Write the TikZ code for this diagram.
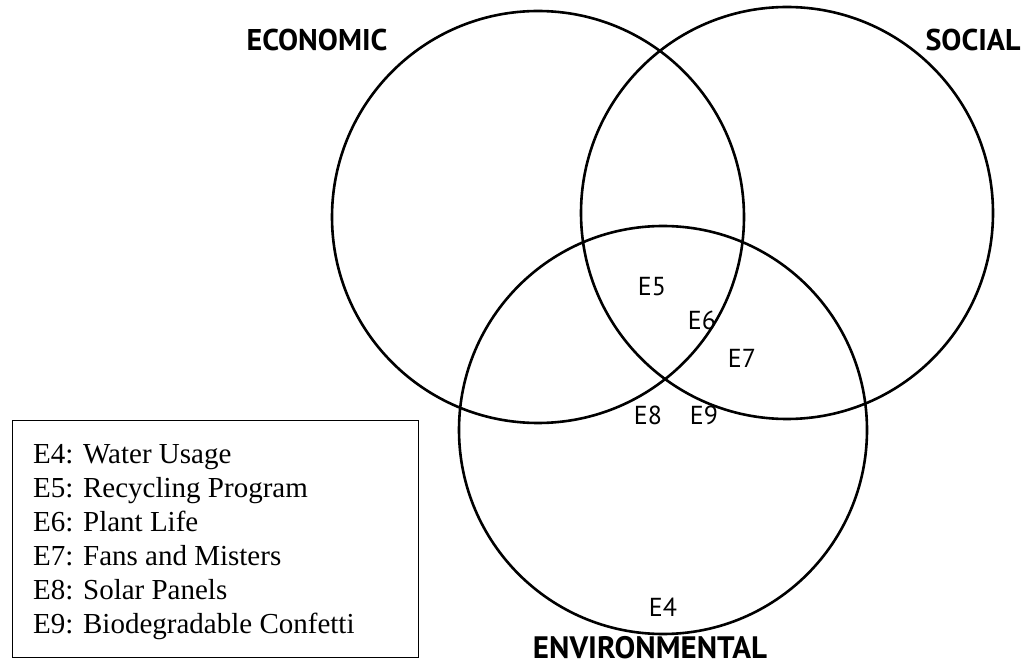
\documentclass[tikz,border=0pt]{standalone}
\usepackage{fontspec}
\setmainfont{Liberation Serif}
\newfontfamily\labelfont{PT Sans}
\tikzset{
  ring/.style={draw, line width=2.6pt},
  setlabel/.style={font=\labelfont\bfseries\fontsize{30}{34}\selectfont},
  itemlabel/.style={font=\labelfont\fontsize{26}{30}\selectfont},
}
\begin{document}
\begin{tikzpicture}[x=1pt,y=-1pt]
      \useasboundingbox (0,0) rectangle (1029,668);
      \coordinate(econ) at (538,217);
      \coordinate(soc) at (787,213);
      \coordinate(env) at (663,430);
      \draw[ring] (econ) circle (206);
      \draw[ring] (soc) circle (206);
      \draw[ring] (env) circle (204);
      \node[setlabel](econlabel) at (317,40) {ECONOMIC};
      \node[setlabel](soclabel) at (973,40) {SOCIAL};
      \node[setlabel, font=\labelfont\bfseries\fontsize{31}{36}\selectfont, anchor=base, inner sep=0pt](envlabel) at (650,658) {ENVIRONMENTAL};
      \node[itemlabel](e4) at (663,607) {E4};
      \node[itemlabel](e5) at (652,287) {E5};
      \node[itemlabel](e6) at (702,320) {E6};
      \node[itemlabel](e7) at (742,358) {E7};
      \node[itemlabel](e8) at (648,415) {E8};
      \node[itemlabel](e9) at (704,415) {E9};
      \draw[line width=1pt] (12,421) rectangle (418,657);
      \node[anchor=north west, align=left, inner sep=0pt, font=\fontsize{29}{34}\selectfont](legend) at (33,444) {E4: Water Usage\\E5: Recycling Program\\E6: Plant Life\\E7: Fans and Misters\\E8: Solar Panels\\E9: Biodegradable Confetti};
    \end{tikzpicture}
\end{document}
